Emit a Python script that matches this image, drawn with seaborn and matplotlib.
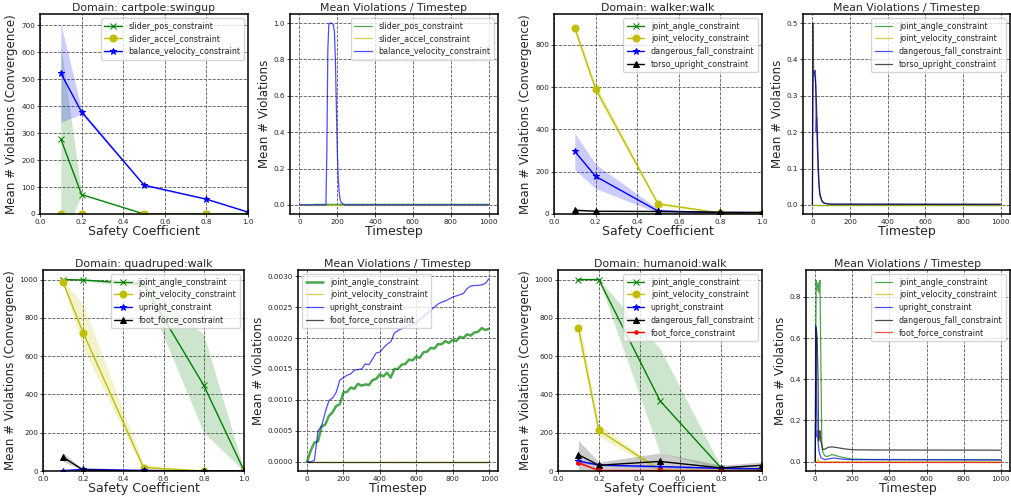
import matplotlib
matplotlib.use("Agg")
import matplotlib.pyplot as plt
import seaborn as sns

# safety coefficients used in the convergence plots
coef = [0.1, 0.2, 0.5, 0.8, 1.0]

# cartpole:swingup
cp_pos = [278, 72, 0, 0, 0]
cp_pos_lo = [-110, 72, 0, 0, 0]
cp_pos_hi = [630, 72, 0, 0, 0]
cp_accel = [0, 0, 0, 0, 0]
cp_bal = [522, 378, 107, 55, 7]
cp_bal_lo = [340, 370, 103, 53, 5]
cp_bal_hi = [705, 388, 111, 57, 9]

# walker:walk
wk_angle = [0, 0, 0, 0, 0]
wk_vel = [878, 592, 48, 5, 2]
wk_vel_lo = [858, 567, 38, 3, 1]
wk_vel_hi = [900, 617, 58, 7, 3]
wk_fall = [296, 178, 14, 7, 7]
wk_fall_lo = [210, 120, 5, 5, 5]
wk_fall_hi = [382, 236, 24, 9, 9]
wk_torso = [18, 13, 12, 8, 7]
wk_torso_lo = [12, 10, 10, 6, 5]
wk_torso_hi = [24, 16, 14, 10, 9]

# quadruped:walk
qd_angle = [1000, 998, 975, 447, 2]
qd_angle_lo = [998, 994, 955, 200, 0]
qd_angle_hi = [1000, 1000, 990, 712, 4]
qd_vel = [985, 722, 18, 0, 0]
qd_vel_lo = [975, 640, 5, 0, 0]
qd_vel_hi = [995, 870, 35, 2, 0]
qd_up = [2, 8, 3, 0, 0]
qd_up_lo = [0, 0, 0, 0, 0]
qd_up_hi = [4, 20, 6, 0, 0]
qd_foot = [72, 5, 0, 0, 0]
qd_foot_lo = [50, 2, 0, 0, 0]
qd_foot_hi = [95, 8, 0, 0, 0]

# humanoid:walk
hm_angle = [1000, 1000, 367, 15, 10]
hm_angle_lo = [1000, 998, 95, 10, 5]
hm_angle_hi = [1000, 1000, 640, 20, 15]
hm_vel = [748, 213, 5, 2, 2]
hm_vel_lo = [690, 180, 0, 0, 0]
hm_vel_hi = [810, 245, 10, 4, 4]
hm_up = [52, 31, 23, 14, 12]
hm_up_lo = [44, 26, 16, 9, 8]
hm_up_hi = [60, 36, 30, 19, 16]
hm_fall = [85, 30, 50, 16, 30]
hm_fall_lo = [5, 10, 10, 5, 15]
hm_fall_hi = [160, 47, 94, 30, 47]
hm_foot = [43, 3, 3, 2, 2]
hm_foot_lo = [35, 1, 1, 0, 0]
hm_foot_hi = [51, 5, 5, 4, 4]

# timestep curves (sampled)
cp_t_bal = [0, 140, 145, 150, 155, 160, 170, 180, 185, 190, 195, 200, 205, 210, 215, 220, 230, 240, 1000]
cp_v_bal = [0, 0, 0.3, 0.85, 0.99, 1.0, 1.0, 0.99, 0.95, 0.8, 0.55, 0.3, 0.15, 0.07, 0.03, 0.015, 0.005, 0.0, 0.0]
cp_t_pos = [0, 60, 80, 1000]
cp_v_pos = [0, 0, 0.003, 0.003]
cp_t_accel = [0, 1000]
cp_v_accel = [0, 0]

wk_t_torso = [0, 2, 4, 6, 10, 15, 20, 25, 30, 35, 40, 50, 60, 70, 80, 100, 1000]
wk_v_torso = [0, 0.50, 0.45, 0.37, 0.36, 0.35, 0.30, 0.22, 0.13, 0.06, 0.03, 0.012, 0.006, 0.004, 0.003, 0.002, 0.002]
wk_t_fall = [0, 3, 5, 10, 15, 18, 20, 22, 25, 30, 35, 40, 50, 60, 80, 100, 1000]
wk_v_fall = [0, 0.30, 0.36, 0.365, 0.37, 0.33, 0.20, 0.24, 0.18, 0.10, 0.05, 0.025, 0.01, 0.005, 0.003, 0.002, 0.001]
wk_t_flat = [0, 1000]
wk_v_flat = [0, 0]

qd_t = list(range(0, 1001, 20))
qd_v_angle = [0, 0.00018, 0.00031, 0.00033, 0.00057, 0.00060, 0.00074, 0.00080, 0.00090, 0.00093,
              0.00112, 0.00113, 0.00120, 0.00118, 0.00126, 0.00123, 0.00125, 0.00124, 0.00132, 0.00134,
              0.00141, 0.00138, 0.00144, 0.00136, 0.00150, 0.00150, 0.00157, 0.00158, 0.00165, 0.00164,
              0.00170, 0.00168, 0.00177, 0.00178, 0.00184, 0.00183, 0.00190, 0.00190, 0.00195, 0.00192,
              0.00197, 0.00195, 0.00202, 0.00200, 0.00206, 0.00204, 0.00209, 0.00210, 0.00216, 0.00213,
              0.00215]
qd_v_up = [0, 0, 0.00002, 0.0005, 0.00058, 0.0008, 0.00099, 0.00103, 0.00112, 0.00132,
           0.00136, 0.0014, 0.00142, 0.00148, 0.00149, 0.0015, 0.00158, 0.00157, 0.00166, 0.00176,
           0.00177, 0.00184, 0.0019, 0.00194, 0.00208, 0.00212, 0.00215, 0.00218, 0.0022, 0.00222,
           0.00224, 0.0023, 0.00235, 0.0024, 0.00245, 0.0025, 0.00255, 0.00258, 0.0026, 0.00263,
           0.00266, 0.00268, 0.0027, 0.00272, 0.0028, 0.00284, 0.00285, 0.00285, 0.00286, 0.00288,
           0.00296]
qd_t_flat = [0, 1000]
qd_v_flat = [0, 0]

hm_t_angle = [0, 3, 5, 10, 15, 20, 25, 30, 35, 40, 50, 60, 80, 90, 110, 150, 200, 300, 1000]
hm_v_angle = [0, 0.6, 0.88, 0.83, 0.87, 0.82, 0.88, 0.5, 0.1, 0.05, 0.03, 0.025, 0.03, 0.035, 0.03, 0.02, 0.013, 0.011, 0.01]
hm_t_fall = [0, 3, 5, 10, 15, 18, 22, 25, 30, 40, 50, 70, 90, 120, 160, 200, 300, 1000]
hm_v_fall = [0, 0.4, 0.65, 0.6, 0.4, 0.1, 0.13, 0.15, 0.1, 0.06, 0.06, 0.07, 0.072, 0.068, 0.062, 0.058, 0.057, 0.056]
hm_t_up = [0, 2, 5, 10, 12, 15, 20, 30, 50, 80, 100, 150, 200, 1000]
hm_v_up = [0, 0.66, 0.4, 0.12, 0.15, 0.1, 0.05, 0.02, 0.01, 0.015, 0.018, 0.012, 0.01, 0.008]
hm_t_vel = [0, 10, 15, 20, 1000]
hm_v_vel = [0, 0, 0.01, 0, 0]
hm_t_foot = [0, 1000]
hm_v_foot = [0, 0]

GREEN, YELLOW, BLUE, BLACK, RED = "g", "y", "b", "k", "r"

sns.set_style("whitegrid", {
    "axes.edgecolor": "black",
    "grid.color": "0.35",
    "grid.linestyle": "--",
    "xtick.bottom": True,
    "ytick.left": True,
})
plt.rcParams["font.family"] = ["DejaVu Sans"]

fig = plt.figure(figsize=(10.11, 4.99), dpi=100)
W, H = 1011, 499


def add_ax(x0, x1, y0, y1):
    return fig.add_axes([x0 / W, 1 - y1 / H, (x1 - x0) / W, (y1 - y0) / H])


def style(ax, title, xlabel, ylabel):
    ax.set_title(title, fontsize=7.8, pad=2)
    ax.set_xlabel(xlabel, fontsize=9, labelpad=0)
    ax.set_ylabel(ylabel, fontsize=8.6, labelpad=2)
    ax.tick_params(labelsize=5.2, length=2, width=0.6, pad=1.5)
    ax.grid(True, linewidth=0.6)
    for s in ax.spines.values():
        s.set_linewidth(1.1)


def conv_line(ax, y, lo, hi, color, marker, label):
    if lo is not None:
        ax.fill_between(coef, lo, hi, color=color, alpha=0.2, linewidth=0)
    sns.lineplot(x=coef, y=y, ax=ax, color=color, marker=marker, markersize=5,
                 markeredgecolor=color, linewidth=1, label=label)


def time_line(ax, t, v, color, label, lw=0.9):
    sns.lineplot(x=t, y=v, ax=ax, color=color, alpha=0.7, linewidth=lw, label=label)


def legend(ax, loc):
    ax.legend(fontsize=5.8, loc=loc, framealpha=0.8, borderpad=0.45,
              labelspacing=0.45, handlelength=2.2)


def conv_finish(ax, top):
    ax.set_xlim(0, 1.0)
    ax.set_ylim(0, top)
    ax.set_xticks([0.0, 0.2, 0.4, 0.6, 0.8, 1.0])
    legend(ax, "upper right")


def time_finish(ax, loc="upper right"):
    ax.set_xlim(-50, 1050)
    ax.set_xticks([0, 200, 400, 600, 800, 1000])
    legend(ax, loc)


# row 1
ax = add_ax(40, 248, 14, 214)
conv_line(ax, cp_pos, cp_pos_lo, cp_pos_hi, GREEN, "x", "slider_pos_constraint")
conv_line(ax, cp_accel, None, None, YELLOW, "o", "slider_accel_constraint")
conv_line(ax, cp_bal, cp_bal_lo, cp_bal_hi, BLUE, "*", "balance_velocity_constraint")
conv_finish(ax, 741)
style(ax, "Domain: cartpole:swingup", "Safety Coefficient", "Mean # Violations (Convergence)")

ax = add_ax(290, 498, 14, 214)
time_line(ax, cp_t_pos, cp_v_pos, GREEN, "slider_pos_constraint")
time_line(ax, cp_t_accel, cp_v_accel, YELLOW, "slider_accel_constraint")
time_line(ax, cp_t_bal, cp_v_bal, BLUE, "balance_velocity_constraint")
ax.set_ylim(-0.05, 1.05)
time_finish(ax)
style(ax, "Mean Violations / Timestep", "Timestep", "Mean # Violations")

ax = add_ax(554, 762, 14, 214)
conv_line(ax, wk_angle, None, None, GREEN, "x", "joint_angle_constraint")
conv_line(ax, wk_vel, wk_vel_lo, wk_vel_hi, YELLOW, "o", "joint_velocity_constraint")
conv_line(ax, wk_fall, wk_fall_lo, wk_fall_hi, BLUE, "*", "dangerous_fall_constraint")
conv_line(ax, wk_torso, wk_torso_lo, wk_torso_hi, BLACK, "^", "torso_upright_constraint")
conv_finish(ax, 945)
style(ax, "Domain: walker:walk", "Safety Coefficient", "Mean # Violations (Convergence)")

ax = add_ax(803, 1010, 14, 214)
time_line(ax, wk_t_flat, wk_v_flat, GREEN, "joint_angle_constraint")
time_line(ax, wk_t_flat, wk_v_flat, YELLOW, "joint_velocity_constraint")
time_line(ax, wk_t_fall, wk_v_fall, BLUE, "dangerous_fall_constraint")
time_line(ax, wk_t_torso, wk_v_torso, BLACK, "torso_upright_constraint")
ax.set_ylim(-0.025, 0.525)
time_finish(ax)
style(ax, "Mean Violations / Timestep", "Timestep", "Mean # Violations")

# row 2
ax = add_ax(43, 244, 270, 471)
conv_line(ax, qd_angle, qd_angle_lo, qd_angle_hi, GREEN, "x", "joint_angle_constraint")
conv_line(ax, qd_vel, qd_vel_lo, qd_vel_hi, YELLOW, "o", "joint_velocity_constraint")
conv_line(ax, qd_up, qd_up_lo, qd_up_hi, BLUE, "*", "upright_constraint")
conv_line(ax, qd_foot, qd_foot_lo, qd_foot_hi, BLACK, "^", "foot_force_constraint")
conv_finish(ax, 1050)
style(ax, "Domain: quadruped:walk", "Safety Coefficient", "Mean # Violations (Convergence)")

ax = add_ax(298, 498, 270, 471)
time_line(ax, qd_t, qd_v_angle, GREEN, "joint_angle_constraint", lw=1.8)
time_line(ax, qd_t_flat, qd_v_flat, YELLOW, "joint_velocity_constraint")
time_line(ax, qd_t, qd_v_up, BLUE, "upright_constraint")
time_line(ax, qd_t_flat, qd_v_flat, BLACK, "foot_force_constraint")
ax.set_ylim(-0.00015, 0.0031)
time_finish(ax, loc="upper left")
style(ax, "Mean Violations / Timestep", "Timestep", "Mean # Violations")

ax = add_ax(558, 762, 270, 471)
conv_line(ax, hm_angle, hm_angle_lo, hm_angle_hi, GREEN, "x", "joint_angle_constraint")
conv_line(ax, hm_vel, hm_vel_lo, hm_vel_hi, YELLOW, "o", "joint_velocity_constraint")
conv_line(ax, hm_up, hm_up_lo, hm_up_hi, BLUE, "*", "upright_constraint")
conv_line(ax, hm_fall, hm_fall_lo, hm_fall_hi, BLACK, "^", "dangerous_fall_constraint")
conv_line(ax, hm_foot, hm_foot_lo, hm_foot_hi, RED, ".", "foot_force_constraint")
conv_finish(ax, 1050)
style(ax, "Domain: humanoid:walk", "Safety Coefficient", "Mean # Violations (Convergence)")

ax = add_ax(806, 1010, 270, 471)
time_line(ax, hm_t_angle, hm_v_angle, GREEN, "joint_angle_constraint")
time_line(ax, hm_t_vel, hm_v_vel, YELLOW, "joint_velocity_constraint")
time_line(ax, hm_t_up, hm_v_up, BLUE, "upright_constraint")
time_line(ax, hm_t_fall, hm_v_fall, BLACK, "dangerous_fall_constraint")
time_line(ax, hm_t_foot, hm_v_foot, RED, "foot_force_constraint")
ax.set_ylim(-0.045, 0.93)
time_finish(ax)
style(ax, "Mean Violations / Timestep", "Timestep", "Mean # Violations")

fig.savefig("out.png", dpi=100)
